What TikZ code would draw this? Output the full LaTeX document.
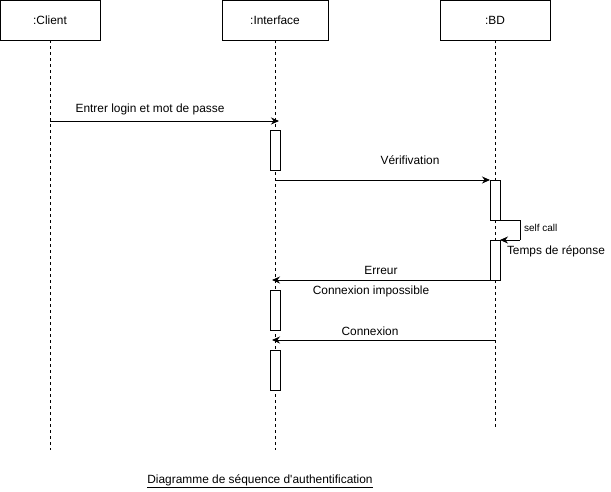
\documentclass[tikz,border=0pt]{standalone}
\usepackage{fontspec}
\setmainfont{Liberation Sans}
\usetikzlibrary{arrows.meta}
\begin{document}
\begin{tikzpicture}[x=1pt,y=-1pt,
  every node/.style={inner sep=0pt, outer sep=0pt},
  objbox/.style={draw, line width=0.9pt, fill=white, font=\fontsize{11.9}{14}\selectfont},
  actbox/.style={draw, line width=0.9pt, fill=white},
  lifeline/.style={line width=0.8pt, dash pattern=on 3pt off 3pt},
  msg/.style={line width=0.9pt, -{Stealth[length=8pt,width=7pt]}},
  lbl/.style={font=\fontsize{11.9}{14}\selectfont},
  small/.style={font=\fontsize{10}{12}\selectfont}]
\useasboundingbox (0,0) rectangle (611,491);
% objects
\node[objbox, minimum width=100pt, minimum height=40pt] (client) at (50,20) {:Client};
\node[objbox, minimum width=106pt, minimum height=40pt] (iface) at (275,20) {:Interface};
\node[objbox, minimum width=110pt, minimum height=40pt] (bd) at (495,20) {:BD};
% lifeline ends
\coordinate (clientEnd) at (50,450);
\coordinate (ifaceEnd) at (275,450);
\coordinate (bdEnd) at (495,428);
\draw[lifeline] (client.south) -- (clientEnd);
\draw[lifeline] (iface.south) -- (ifaceEnd);
\draw[lifeline] (bd.south) -- (bdEnd);
% activations
\node[actbox, minimum width=10pt, minimum height=40pt] (act1) at (275,150) {};
\node[actbox, minimum width=10pt, minimum height=40pt] (act2) at (495,200) {};
\node[actbox, minimum width=10pt, minimum height=40pt] (act3) at (495,260) {};
\node[actbox, minimum width=10pt, minimum height=40pt] (act4) at (275,310) {};
\node[actbox, minimum width=10pt, minimum height=40pt] (act5) at (275,370) {};
% messages
\coordinate (m1s) at (50,121);
\coordinate (m1e) at (279,121);
\draw[msg] (m1s) -- (m1e);
\node[lbl] (login) at (150,109) {Entrer login et mot de passe};
\coordinate (m2s) at (275,180);
\draw[msg] (m2s) -- (act2.north west);
\node[lbl] (verif) at (410,160) {Vérifivation};
\coordinate (sc1) at (520,220);
\coordinate (sc2) at (520,240);
\draw[line width=0.9pt] (act2.south east) -- (sc1) -- (sc2);
\draw[msg] (sc2) -- (act3.north east);
\node[small, anchor=west] (selfcall) at (524,228) {self call};
\node[lbl, anchor=west] (temps) at (507,251) {Temps de réponse};
\coordinate (m3e) at (272,280);
\draw[msg] (act3.south west) -- (m3e);
\node[lbl] (erreur) at (381,270) {Erreur};
\node[lbl] (impossible) at (371,291) {Connexion impossible};
\coordinate (m4s) at (495,340);
\coordinate (m4e) at (272,340);
\draw[msg] (m4s) -- (m4e);
\node[lbl] (conn) at (370,331) {Connexion};
% title
\node[lbl] (title) at (260,481) {\underline{Diagramme de séquence d\textquotesingle authentification}};
\end{tikzpicture}
\end{document}
